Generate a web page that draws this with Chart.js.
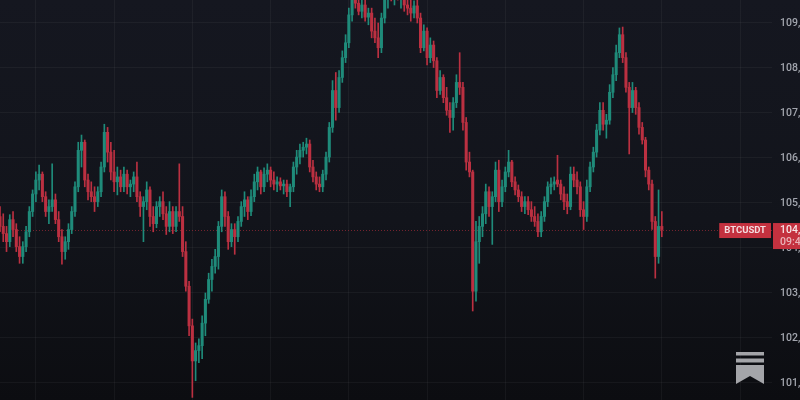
<!DOCTYPE html>
<html>
<head>
<meta charset="utf-8">
<script src="https://cdn.jsdelivr.net/npm/chart.js@4/dist/chart.umd.min.js"></script>
<style>
  html, body { margin:0; padding:0; width:800px; height:400px; overflow:hidden;
    background: linear-gradient(180deg, #151720 0%, #12141b 55%, #0c0d11 100%); }
  #wrap { position:absolute; left:0; top:0; width:840px; height:400px; }
  canvas { filter: blur(0.6px); }
</style>
</head>
<body>
<div id="wrap"><canvas id="c" width="840" height="400"></canvas></div>
<script>
const symbol = 'BTCUSDT';
const countdown = '09:47';
const yTickValues = [101000,102000,103000,104000,105000,106000,107000,108000,109000];
const dayBoundaries = [24,48,72,96,120,144,168,192,216];

const opens = [104700,104480,104320,104140,104630,104410,104030,103810,104030,104360,
104810,105200,105510,105640,105140,104810,104920,105070,104630,104250,
103920,104140,104410,104810,105360,106170,106350,105510,105250,105140,
105030,105250,105800,106570,106130,105690,105470,105580,105360,105640,
105360,105420,105580,105140,104920,105030,105290,104700,104540,104920,
105030,104760,104480,104810,104480,104810,104700,103920,103150,102270,
101490,101720,101830,102330,102860,103300,103590,103810,104480,105140,
104700,104140,104410,104250,104590,104920,105070,104810,105140,105470,
105690,105360,105640,105730,105510,105420,105470,105380,105420,105250,
105360,105800,106020,106170,106240,106310,105800,105580,105420,105360,
105640,106020,106680,107500,107120,107790,108230,108560,109180,109660,
109440,109260,109400,109130,109220,108820,108670,108450,109110,109550,
109710,109620,109770,109550,109660,109400,109330,109220,109380,109110,
108450,108820,108230,108510,108160,107500,107790,107340,107060,106900,
107230,107680,107570,106790,105910,105690,103040,104140,104480,104760,
105250,104920,105140,105730,105030,105360,105690,105910,105470,105290,
105140,104920,105030,104850,104700,104590,104360,104700,105030,105360,
105420,105510,105420,105200,105030,104920,105640,105510,105360,104850,
104700,105360,105800,106130,106620,107060,106750,106840,107460,107850,
108340,108740,108230,107570,107120,107500,107120,106680,106400,105730,
105420,104590,103810,104480];
const highs = [104920,104760,104480,104740,104810,104540,104250,104140,104480,104920,
105290,105690,105840,105690,105250,105070,105870,105200,104810,104410,
104250,104540,104920,105470,106350,106510,106400,105640,105470,105360,
105360,105910,106750,106680,106350,106170,105800,105730,105800,105730,
105510,105690,105910,105250,105140,105470,105360,104920,105030,105140,
105250,104920,105030,104920,104920,105870,104920,104140,103260,102420,
101890,101980,102490,103000,103440,103750,103970,104590,105290,105250,
104810,104540,104540,104700,105030,105250,105140,105290,105640,105800,
105730,105780,105870,105800,105690,105580,105560,105510,105510,105420,
105910,106170,106310,106350,106440,106400,105950,105690,105580,105730,
106130,106790,107720,107900,107940,108380,108740,109330,109880,109990,
109770,109550,109660,109330,109330,109110,109000,109220,109660,109880,
109990,109880,109990,109770,109840,109620,109550,109490,109550,109220,
108960,108890,108670,108600,108230,107940,107850,107570,107230,107340,
107850,108340,107680,106900,106130,105730,104590,104700,104920,105420,
105360,105250,105910,105950,105510,105800,106170,105950,105580,105400,
105250,105140,105140,105030,104920,104760,104810,105140,105470,105560,
105580,106060,105510,105360,105200,105800,105800,105690,105470,105030,
105510,105910,106240,106750,107230,107230,106970,107630,108010,108510,
108890,108910,108340,107680,107680,107570,107230,106790,106460,105800,
105510,104700,105290,104810];
const lows = [104360,104140,103920,104030,104250,103920,103660,103660,103920,104250,
104700,105030,105290,105030,104700,104540,104810,104540,104140,103640,
103750,103970,104320,104700,105250,105800,105360,105070,105030,104810,
104920,105140,105690,105910,105510,105250,105180,105250,105250,105200,
105140,105250,105030,104700,104140,104850,104480,104360,104450,104700,
104630,104300,104360,104320,104360,104590,103810,103040,102050,100680,
101050,101450,101540,102050,102770,103040,103440,103530,104360,104480,
103970,104030,103860,104140,104480,104700,104630,104720,105030,105290,
105200,105250,105470,105360,105290,105250,105290,105200,105140,104920,
105250,105640,105870,106020,106090,105690,105470,105290,105250,105250,
105510,105910,106570,106840,107010,107680,108120,108450,109040,109330,
109180,109110,109040,108960,108670,108560,108230,108340,109000,109330,
109490,109400,109510,109330,109260,109180,109040,109110,109000,108340,
108380,108070,108120,108010,107340,107410,107230,106950,106570,106620,
107120,107410,106620,105730,105580,102600,102820,103660,104250,104540,
104700,104080,105030,104810,104920,105250,105580,105360,105180,105030,
104810,104760,104740,104590,104480,104250,104250,104590,104920,105200,
105290,105360,105070,104850,104760,104850,105360,105200,104700,104410,
104590,105250,105690,106020,106510,106620,106440,106750,107340,107720,
108230,108120,107460,106090,107010,106970,106530,106310,105580,105290,
104410,103330,103660,104250];
const closes = [104480,104320,104140,104630,104410,104030,103810,104030,104360,104810,
105200,105510,105640,105140,104810,104920,105070,104630,104250,103920,
104140,104410,104810,105360,106170,106350,105510,105250,105140,105030,
105250,105800,106570,106130,105690,105470,105580,105360,105640,105360,
105420,105580,105140,104920,105030,105290,104700,104540,104920,105030,
104760,104480,104810,104480,104810,104700,103920,103150,102270,101490,
101720,101830,102330,102860,103300,103590,103810,104480,105140,104700,
104140,104410,104250,104590,104920,105070,104810,105140,105470,105690,
105360,105640,105730,105510,105420,105470,105380,105420,105250,105360,
105800,106020,106170,106240,106310,105800,105580,105420,105360,105640,
106020,106680,107500,107120,107790,108230,108560,109180,109660,109440,
109260,109400,109130,109220,108820,108670,108450,109110,109550,109710,
109620,109770,109550,109660,109400,109330,109220,109380,109110,108450,
108820,108230,108510,108160,107500,107790,107340,107060,106900,107230,
107680,107570,106790,105910,105690,103040,104140,104480,104760,105250,
104920,105140,105730,105030,105360,105690,105910,105470,105290,105140,
104920,105030,104850,104700,104590,104360,104700,105030,105360,105420,
105470,105420,105200,105030,104920,105640,105510,105360,104850,104700,
105360,105800,106130,106620,107060,106750,106840,107460,107850,108340,
108740,108230,107570,107120,107500,107120,106680,106400,105730,105420,
104590,103810,104480,104410];

const UP = '#1f8b7a';
const DOWN = '#bb3041';
const n = closes.length;
const colors = closes.map((c, i) => (c >= opens[i] ? UP : DOWN));
const wickData = closes.map((c, i) => ({ x: i + 1, y: [lows[i], highs[i]] }));
const bodyData = closes.map((c, i) => ({ x: i + 1, y: [opens[i], c] }));
const lastPrice = closes[n - 1];

const overlay = {
  id: 'overlay',
  beforeDatasetsDraw(chart) {
    const { ctx, chartArea, scales } = chart;
    const y = Math.round(scales.y.getPixelForValue(lastPrice)) + 0.5;
    ctx.save();
    ctx.strokeStyle = 'rgba(196,49,63,0.55)';
    ctx.lineWidth = 1;
    ctx.setLineDash([1, 2]);
    ctx.beginPath();
    ctx.moveTo(chartArea.left, y);
    ctx.lineTo(chartArea.right, y);
    ctx.stroke();
    ctx.restore();
  },
  afterDraw(chart) {
    const { ctx, chartArea, scales } = chart;
    const y = scales.y.getPixelForValue(lastPrice);
    ctx.save();
    ctx.font = 'bold 9.5px Roboto, "DejaVu Sans", sans-serif';
    const sw = ctx.measureText(symbol).width + 10;
    ctx.fillStyle = '#c4313f';
    ctx.fillRect(chartArea.right - sw - 1, y - 6.5, sw, 15);
    ctx.fillStyle = '#f4dcdf';
    ctx.textBaseline = 'middle';
    ctx.textAlign = 'left';
    ctx.fillText(symbol, chartArea.right - sw + 4, y + 1);
    ctx.fillStyle = '#c4313f';
    ctx.fillRect(chartArea.right + 1, y - 6.5, 70, 26);
    ctx.font = '500 10.5px Roboto, "DejaVu Sans", sans-serif';
    ctx.fillStyle = '#f6e4e6';
    ctx.fillText(lastPrice.toLocaleString('en-US') + '.00', chartArea.right + 8, y + 1);
    ctx.fillStyle = '#e9b3b9';
    ctx.fillText(countdown, chartArea.right + 8, y + 13);
    ctx.fillStyle = '#a4a5a9';
    ctx.fillRect(736, 352, 28, 3.5);
    ctx.fillRect(736, 358.5, 28, 4);
    ctx.beginPath();
    ctx.moveTo(736, 365);
    ctx.lineTo(764, 365);
    ctx.lineTo(764, 384);
    ctx.lineTo(750, 376);
    ctx.lineTo(736, 384);
    ctx.closePath();
    ctx.fill();
    ctx.restore();
  }
};

new Chart(document.getElementById('c'), {
  type: 'bar',
  data: {
    datasets: [
      { data: wickData, backgroundColor: colors, barThickness: 1, grouped: false, order: 2 },
      { data: bodyData, backgroundColor: colors, barThickness: 2.4, minBarLength: 1, grouped: false, order: 1 }
    ]
  },
  options: {
    responsive: false,
    animation: false,
    devicePixelRatio: 1,
    layout: { padding: 0 },
    plugins: { legend: { display: false }, tooltip: { enabled: false } },
    scales: {
      x: {
        type: 'linear',
        offset: false,
        min: 1,
        max: 237.8,
        afterBuildTicks(scale) { scale.ticks = dayBoundaries.map(v => ({ value: v })); },
        afterFit(scale) { scale.height = 0; scale.paddingLeft = 0; scale.paddingRight = 0; scale.paddingTop = 0; scale.paddingBottom = 0; },
        ticks: { display: false },
        grid: { color: 'rgba(255,255,255,0.045)', drawTicks: false },
        border: { display: false }
      },
      y: {
        position: 'right',
        min: 100622,
        max: 109511,
        afterBuildTicks(scale) { scale.ticks = yTickValues.map(v => ({ value: v })); },
        afterFit(scale) { scale.width = 68; scale.paddingTop = 0; scale.paddingBottom = 0; },
        ticks: {
          padding: 8,
          color: '#a2a5ad',
          font: { family: 'Roboto, "DejaVu Sans", sans-serif', size: 10.5, weight: '500' },
          callback: v => Number(v).toLocaleString('en-US')
        },
        grid: { color: 'rgba(255,255,255,0.045)', drawTicks: false },
        border: { display: false }
      }
    }
  },
  plugins: [overlay]
});
</script>
</body>
</html>
